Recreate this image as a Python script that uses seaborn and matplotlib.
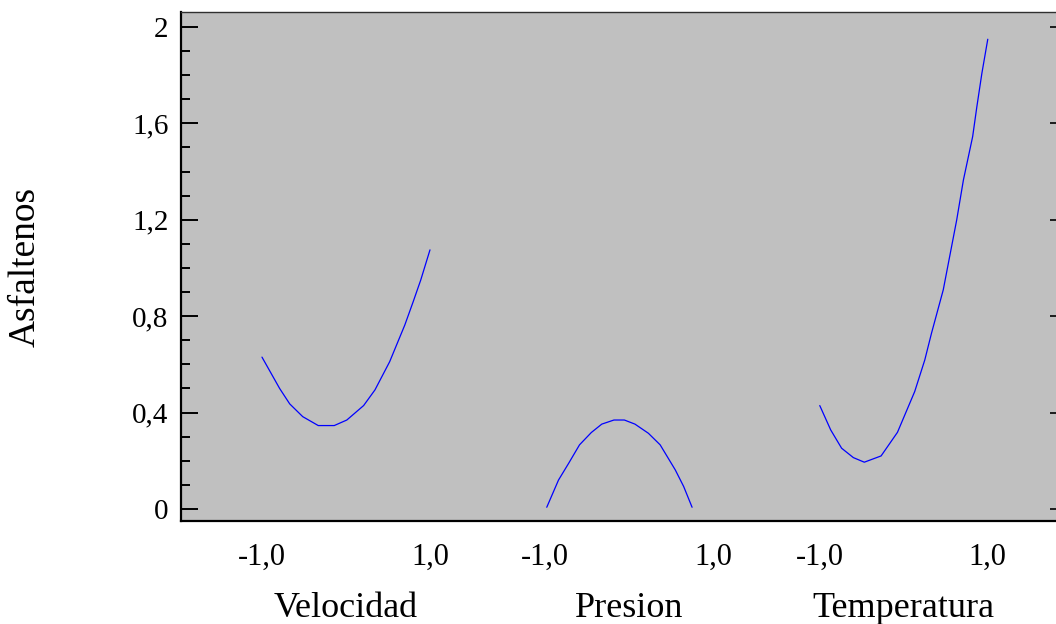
import numpy as np
import pandas as pd
import matplotlib
matplotlib.use("Agg")
import matplotlib.pyplot as plt
import seaborn as sns
from matplotlib.ticker import MultipleLocator

# ==================== datos ====================
factores = ["Velocidad", "Presion", "Temperatura"]

vel_x = [-1.0, -0.79, -0.67, -0.515, -0.33, -0.14, 0.01, 0.21, 0.345, 0.52, 0.70, 0.80, 0.89, 1.0]
vel_y = [0.63, 0.50, 0.436, 0.383, 0.346, 0.346, 0.369, 0.429, 0.494, 0.611, 0.763, 0.86, 0.95, 1.075]

pre_x = [-0.98, -0.84, -0.72, -0.59, -0.45, -0.325, -0.18, -0.056, 0.07, 0.23, 0.37, 0.55, 0.65, 0.75]
pre_y = [0.007, 0.12, 0.189, 0.266, 0.317, 0.352, 0.369, 0.369, 0.352, 0.314, 0.266, 0.162, 0.093, 0.007]

tem_x = [-1.0, -0.87, -0.74, -0.60, -0.47, -0.27, -0.075, 0.13, 0.25, 0.33, 0.47, 0.63, 0.71, 0.82, 0.87, 0.93, 1.0]
tem_y = [0.429, 0.328, 0.252, 0.213, 0.194, 0.220, 0.318, 0.487, 0.618, 0.729, 0.909, 1.199, 1.365, 1.545, 1.669, 1.808, 1.949]

y_ticks = [0, 0.4, 0.8, 1.2, 1.6, 2.0]
y_labels = ["0", "0,4", "0,8", "1,2", "1,6", "2"]

# centro de cada factor en el eje x compartido
offsets = [0.0, 3.37, 6.64]

frames = []
for name, off, xs, ys in zip(factores, offsets, [vel_x, pre_x, tem_x], [vel_y, pre_y, tem_y]):
    frames.append(pd.DataFrame({"factor": name, "x": np.array(xs) + off, "y": ys}))
df = pd.concat(frames, ignore_index=True)

# ==================== estilo ====================
sns.set_style("white")
plt.rcParams["font.family"] = ["Liberation Serif", "DejaVu Serif"]
plt.rcParams["text.color"] = "black"
plt.rcParams["axes.labelcolor"] = "black"
plt.rcParams["xtick.color"] = "black"
plt.rcParams["ytick.color"] = "black"

fig = plt.figure(figsize=(10.56, 6.24), dpi=100)
ax = fig.add_axes([181 / 1056, 1 - 521 / 624, (1058 - 181) / 1056, (521 - 12) / 624])
ax.set_facecolor("#c0c0c0")

sns.lineplot(data=df, x="x", y="y", units="factor", estimator=None, sort=False,
             color="#0000ff", linewidth=0.9, ax=ax)

ax.set_xlim(-1.964, 8.476)
ax.set_ylim(-0.05, 2.062)

# eje x: -1,0 / 1,0 bajo cada factor
xt, xl = [], []
for off in offsets:
    xt += [off - 1, off + 1]
    xl += ["-1,0", "1,0"]
ax.set_xticks(xt)
ax.set_xticklabels(xl, fontsize=22)
ax.tick_params(axis="x", length=0, pad=16)

for name, off in zip(factores, offsets):
    ax.text(off, -0.188, name, transform=ax.get_xaxis_transform(),
            ha="center", va="baseline", fontsize=26)

# eje y
ax.set_yticks(y_ticks)
ax.set_yticklabels(y_labels, fontsize=21)
ax.yaxis.set_minor_locator(MultipleLocator(0.1))
ax.tick_params(axis="y", which="major", direction="in", length=12, width=1.4, pad=9,
               left=True, right=False)
ax.tick_params(axis="y", which="minor", direction="in", length=6.5, width=1.4,
               left=True, right=False)

sec = ax.secondary_yaxis("right")
sec.set_yticks(y_ticks)
sec.set_yticklabels([])
sec.tick_params(direction="in", length=6, width=1.2, color="black")
sec.spines["right"].set_visible(False)

ax.set_xlabel("")
ax.set_ylabel("")
ax.text(-0.178, 0.5, "Asfaltenos", rotation=90, transform=ax.transAxes,
        ha="center", va="center", fontsize=27)

# marco
ax.spines["left"].set_linewidth(1.6)
ax.spines["bottom"].set_linewidth(1.6)
ax.spines["left"].set_color("black")
ax.spines["bottom"].set_color("black")
ax.spines["top"].set_linewidth(1.0)
ax.spines["top"].set_color("#303030")
ax.spines["right"].set_visible(False)

fig.savefig("out.png", dpi=100)
